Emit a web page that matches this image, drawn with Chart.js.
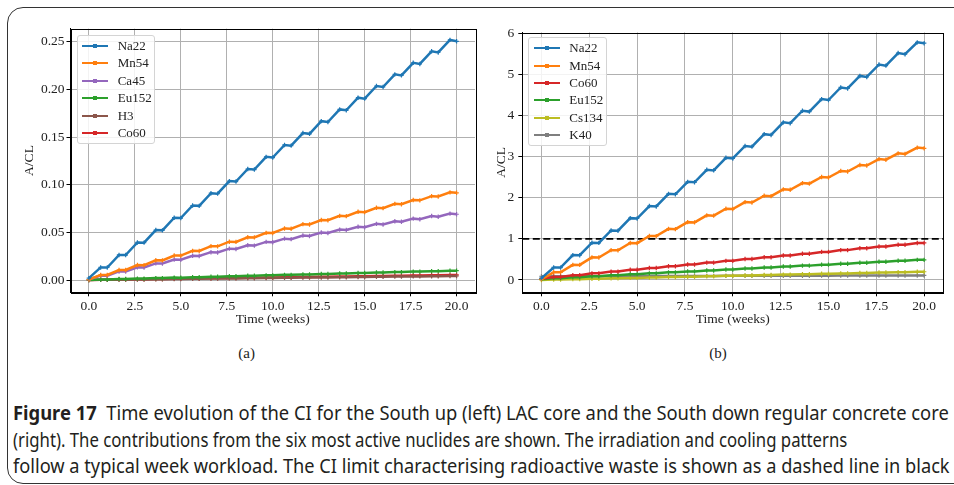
<!DOCTYPE html>
<html><head><meta charset="utf-8">
<script src="https://cdn.jsdelivr.net/npm/chart.js@4.4.1/dist/chart.umd.min.js"></script>
<style>
html,body{margin:0;padding:0;background:#fff;width:954px;height:485px;overflow:hidden;}
body{position:relative;}
#frame{position:absolute;left:7px;top:7px;width:1000px;height:477px;border:1.5px solid #333;border-radius:16px;box-sizing:border-box;}
canvas{position:absolute;}
.leg{position:absolute;background:rgba(255,255,255,0.85);border:1px solid #d4d4d4;border-radius:3px;box-sizing:border-box;font-family:'Liberation Serif','Times New Roman',serif;font-size:13px;color:#222;}
.it{position:absolute;left:0;width:100%;height:16px;}
.ln{position:absolute;top:7px;height:2px;width:26px;}
.mk{position:absolute;top:6px;height:4px;width:4px;}
.tx{position:absolute;top:0;line-height:16px;white-space:nowrap;}
.sub{position:absolute;font-family:'Liberation Serif','Times New Roman',serif;font-size:15px;color:#222;transform:translate(-50%,-50%);}
.cl{position:absolute;left:13px;white-space:nowrap;font-family:'Noto Sans',sans-serif;font-size:19.5px;color:#231f20;transform-origin:0 50%;line-height:26px;}
</style></head>
<body>
<div id="frame"></div>
<canvas id="ca" width="480" height="340" style="left:0;top:0;width:480px;height:340px"></canvas>
<canvas id="cb" width="484" height="340" style="left:470px;top:0;width:484px;height:340px"></canvas>
<div class="sub" style="left:246.7px;top:353px">(a)</div>
<div class="sub" style="left:718px;top:353px">(b)</div>
<div class="cl" id="c1" style="top:400px"><b>Figure 17</b>&nbsp; Time evolution of the CI for the South up (left) LAC core and the South down regular concrete core</div>
<div class="cl" id="c2" style="top:427px">(right). The contributions from the six most active nuclides are shown. The irradiation and cooling patterns</div>
<div class="cl" id="c3" style="top:453px">follow a typical week workload. The CI limit characterising radioactive waste is shown as a dashed line in black</div>
<script>
// ---- data ----
const weeks = [0,0.64,1,1.64,2,2.64,3,3.64,4,4.64,5,5.64,6,6.64,7,7.64,8,8.64,9,9.64,10,10.64,11,11.64,12,12.64,13,13.64,14,14.64,15,15.64,16,16.64,17,17.64,18,18.64,19,19.64,20];
const xTicks = [0,2.5,5,7.5,10,12.5,15,17.5,20];
const xRange = [-1,21];
const yTicksA = [0,0.05,0.10,0.15,0.20,0.25];
const yRangeA = [-0.0129,0.2637];
const yTicksB = [0,1,2,3,4,5,6];
const yRangeB = [-0.30,6.02];
const ciLimit = 1;

// (a) South up, LAC core
const namesA = ['Na22','Mn54','Ca45','Eu152','H3','Co60'];
const colorsA = ['#1f77b4','#ff7f0e','#9467bd','#2ca02c','#8c564b','#d62728'];
const na22A = [0.0020,0.0132,0.0131,0.0263,0.0262,0.0394,0.0392,0.0524,0.0521,0.0654,0.0650,0.0782,0.0778,0.0911,0.0906,0.1038,0.1033,0.1165,0.1159,0.1292,0.1285,0.1417,0.1410,0.1542,0.1534,0.1667,0.1658,0.1790,0.1781,0.1913,0.1903,0.2036,0.2025,0.2158,0.2147,0.2279,0.2267,0.2400,0.2388,0.2520,0.2505];
const mn54A = [0.0005,0.0053,0.0053,0.0105,0.0105,0.0157,0.0156,0.0207,0.0206,0.0257,0.0256,0.0306,0.0305,0.0355,0.0353,0.0402,0.0400,0.0449,0.0447,0.0495,0.0493,0.0541,0.0538,0.0586,0.0583,0.0630,0.0627,0.0673,0.0670,0.0716,0.0712,0.0758,0.0754,0.0799,0.0795,0.0840,0.0836,0.0880,0.0876,0.0920,0.0915];
const ca45A = [0.0005,0.0046,0.0045,0.0090,0.0089,0.0133,0.0131,0.0174,0.0173,0.0215,0.0213,0.0254,0.0252,0.0292,0.0289,0.0329,0.0326,0.0365,0.0361,0.0400,0.0396,0.0434,0.0429,0.0467,0.0462,0.0498,0.0494,0.0529,0.0524,0.0559,0.0554,0.0589,0.0583,0.0617,0.0611,0.0644,0.0638,0.0671,0.0664,0.0697,0.0690];
const eu152A = [0,0.0005,0.0005,0.0010,0.0010,0.0015,0.0015,0.0020,0.0020,0.0025,0.0024,0.0029,0.0029,0.0034,0.0034,0.0039,0.0039,0.0044,0.0044,0.0049,0.0049,0.0054,0.0054,0.0059,0.0059,0.0064,0.0064,0.0069,0.0069,0.0074,0.0073,0.0078,0.0078,0.0083,0.0083,0.0088,0.0088,0.0093,0.0093,0.0098,0.0098];
const h3A = [0,0.0002,0.0002,0.0004,0.0004,0.0006,0.0006,0.0008,0.0008,0.0011,0.0011,0.0013,0.0013,0.0015,0.0015,0.0017,0.0017,0.0019,0.0019,0.0021,0.0021,0.0023,0.0023,0.0025,0.0025,0.0027,0.0027,0.0029,0.0029,0.0032,0.0032,0.0034,0.0034,0.0036,0.0036,0.0038,0.0038,0.0040,0.0040,0.0042,0.0042];
const co60A = [0,0.0003,0.0003,0.0005,0.0005,0.0008,0.0008,0.0011,0.0011,0.0013,0.0013,0.0016,0.0016,0.0019,0.0019,0.0021,0.0021,0.0024,0.0024,0.0027,0.0027,0.0029,0.0029,0.0032,0.0032,0.0034,0.0034,0.0037,0.0037,0.0040,0.0040,0.0042,0.0042,0.0045,0.0045,0.0048,0.0048,0.0050,0.0050,0.0053,0.0053];
const valuesA = [na22A,mn54A,ca45A,eu152A,h3A,co60A];

// (b) South down, regular concrete core
const namesB = ['Na22','Mn54','Co60','Eu152','Cs134','K40'];
const colorsB = ['#1f77b4','#ff7f0e','#d62728','#2ca02c','#bcbd22','#7f7f7f'];
const na22B = [0.046,0.304,0.301,0.605,0.603,0.906,0.902,1.205,1.198,1.504,1.495,1.799,1.789,2.095,2.084,2.387,2.376,2.680,2.666,2.972,2.956,3.259,3.243,3.547,3.528,3.834,3.813,4.117,4.096,4.400,4.377,4.683,4.658,4.963,4.938,5.242,5.214,5.520,5.492,5.780,5.760];
const mn54B = [0.018,0.186,0.185,0.368,0.367,0.550,0.546,0.725,0.722,0.900,0.896,1.071,1.067,1.243,1.236,1.407,1.401,1.572,1.565,1.733,1.726,1.894,1.884,2.051,2.039,2.205,2.193,2.356,2.344,2.506,2.493,2.653,2.639,2.797,2.784,2.940,2.925,3.080,3.065,3.220,3.203];
const co60B = [0.030,0.074,0.074,0.117,0.117,0.161,0.161,0.204,0.204,0.248,0.248,0.291,0.291,0.335,0.335,0.378,0.378,0.422,0.422,0.465,0.465,0.509,0.509,0.552,0.552,0.596,0.596,0.639,0.639,0.683,0.683,0.726,0.726,0.770,0.770,0.813,0.813,0.857,0.857,0.900,0.900];
const eu152B = [0.020,0.044,0.044,0.067,0.067,0.091,0.091,0.114,0.114,0.138,0.138,0.161,0.161,0.185,0.185,0.208,0.208,0.232,0.232,0.255,0.255,0.279,0.279,0.302,0.302,0.326,0.326,0.349,0.349,0.373,0.373,0.396,0.396,0.420,0.420,0.443,0.443,0.467,0.467,0.490,0.490];
const cs134B = [0,0.010,0.010,0.020,0.020,0.030,0.030,0.040,0.040,0.050,0.050,0.060,0.060,0.070,0.070,0.080,0.080,0.090,0.090,0.100,0.100,0.110,0.110,0.120,0.120,0.130,0.130,0.140,0.140,0.150,0.150,0.160,0.160,0.170,0.170,0.180,0.180,0.190,0.190,0.200,0.200];
const k40B = [0.090,0.091,0.091,0.092,0.092,0.093,0.093,0.094,0.094,0.095,0.095,0.096,0.096,0.097,0.097,0.098,0.098,0.099,0.099,0.100,0.100,0.101,0.101,0.102,0.102,0.103,0.103,0.104,0.104,0.105,0.105,0.106,0.106,0.107,0.107,0.108,0.108,0.109,0.109,0.110,0.110];
const valuesB = [na22B,mn54B,co60B,eu152B,cs134B,k40B];

// ---- chart ----
Chart.defaults.font.family = "'Liberation Serif', 'Times New Roman', serif";
Chart.defaults.font.size = 13.5;
Chart.defaults.color = '#222';

function series(label, color, vals){
  return {label, data: weeks.map((t,i)=>({x:t,y:vals[i]})), borderColor: color, backgroundColor: color,
    borderWidth: 2.5, pointStyle:'cross', pointRadius: 2.2, pointBorderWidth: 1.2, pointHoverRadius: 0, tension: 0, fill:false};
}
const framePlugin = {id:'frame', afterDatasetsDraw(chart){
  const a = chart.chartArea, c = chart.ctx; c.save(); c.strokeStyle='#000'; c.lineWidth=1;
  c.strokeRect(Math.round(a.left)+0.5, Math.round(a.top)+0.5, Math.round(a.right-a.left), Math.round(a.bottom-a.top)); c.restore();
}};
function makeOptions(yTicks, yRange, yFmt, yWidth, xHeight, pad, yPad, titlePad){
  return {
    responsive:false, animation:false, events:[],
    layout:{padding:pad},
    plugins:{legend:{display:false}, tooltip:{enabled:false}},
    scales:{
      x:{type:'linear', min:xRange[0], max:xRange[1],
        afterBuildTicks:s=>{s.ticks = xTicks.map(v=>({value:v}));},
        afterFit:s=>{s.height = xHeight;},
        ticks:{callback:v=>Number(v).toFixed(1), maxRotation:0, autoSkip:false, padding:2},
        grid:{color:'#b0b0b0', lineWidth:1, tickColor:'#000', tickLength:4, tickWidth:1},
        border:{display:true, color:'#000', width:1},
        title:{display:true, text:'Time (weeks)', padding:{top:0,bottom:12}}},
      y:{type:'linear', min:yRange[0], max:yRange[1],
        afterBuildTicks:s=>{s.ticks = yTicks.map(v=>({value:v}));},
        afterFit:s=>{s.width = yWidth;},
        ticks:{callback:yFmt, autoSkip:false, padding:yPad},
        grid:{color:'#b0b0b0', lineWidth:1, tickColor:'#000', tickLength:4, tickWidth:1},
        border:{display:true, color:'#000', width:1},
        title:{display:true, text:'A/CL', padding:{top:titlePad,bottom:0}}}
    }
  };
}
const dsA = namesA.map((n,i)=>series(n,colorsA[i],valuesA[i]));
new Chart(document.getElementById('ca'), {type:'line', data:{datasets:dsA},
  options: makeOptions(yTicksA, yRangeA, v=>Number(v).toFixed(2), 70.5, 47.7, {top:28.7,right:5,left:0,bottom:0}, 2, 21),
  plugins:[framePlugin]});
const dsB = namesB.map((n,i)=>series(n,colorsB[i],valuesB[i]));
dsB.push({label:'CI limit', data: xRange.map(x=>({x, y:ciLimit})), borderColor:'#000', borderWidth:1.8, borderDash:[7,3.5], pointRadius:0, tension:0, fill:false});
new Chart(document.getElementById('cb'), {type:'line', data:{datasets:dsB},
  options: makeOptions(yTicksB, yRangeB, v=>String(Math.round(v)), 52.3, 47.7, {top:32.5,right:10.7,left:0,bottom:0}, 4, 23.5),
  plugins:[framePlugin]});

// ---- legends ----
function legend(left, top, w, h, names, colors){
  const box = document.createElement('div'); box.className='leg';
  box.style.cssText += `left:${left}px;top:${top}px;width:${w}px;height:${h}px;`;
  names.forEach((n,i)=>{
    const it = document.createElement('div'); it.className='it'; it.style.top = (2 + i*17.4)+'px';
    it.innerHTML = `<div class="ln" style="left:4.5px;background:${colors[i]}"></div><div class="mk" style="left:15.5px;background:${colors[i]}"></div><div class="tx" style="left:40px">${n}</div>`;
    box.appendChild(it);
  });
  document.body.appendChild(box);
}
legend(76.7, 35, 78.5, 108.5, namesA, colorsA);
legend(528.3, 37.3, 79, 108.7, namesB, colorsB);

// caption fit (each line to its width in the reference)
const capWidths = {c1:936, c2:834, c3:937};
function fitCaption(){
  Object.keys(capWidths).forEach(id=>{
    const el = document.getElementById(id);
    el.style.transform = 'none';
    const s = capWidths[id] / el.scrollWidth;
    el.style.transform = `scaleX(${s})`;
  });
}
fitCaption();
if (document.fonts && document.fonts.ready) document.fonts.ready.then(fitCaption);
</script>
</body></html>
